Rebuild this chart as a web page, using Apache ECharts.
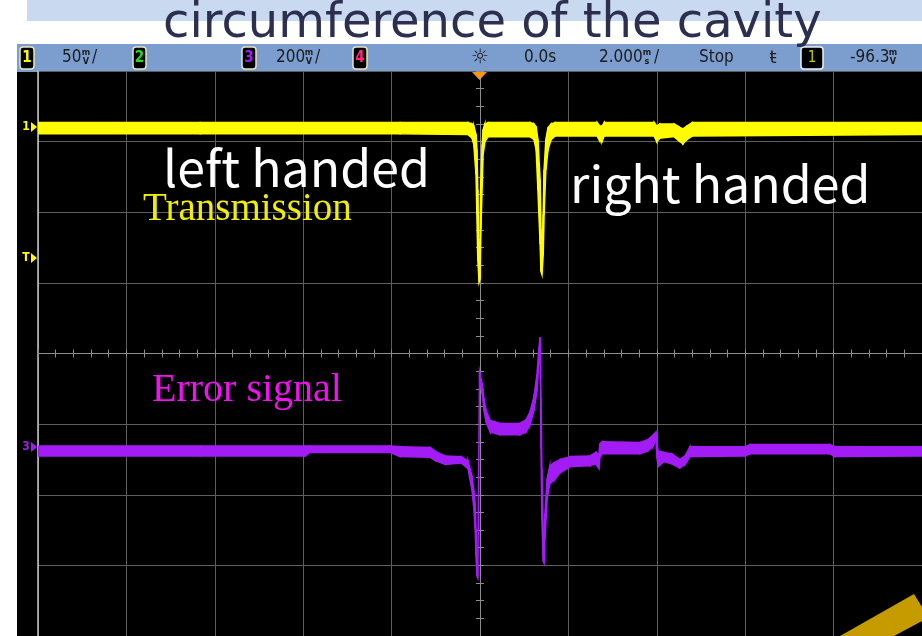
<!DOCTYPE html>
<html>
<head>
<meta charset="utf-8">
<script src="https://cdn.jsdelivr.net/npm/echarts@6/dist/echarts.min.js"></script>
<style>
html, body { margin: 0; padding: 0; background: #fff; }
#chart { width: 922px; height: 636px; }
</style>
</head>
<body>
<div id="chart"></div>
<script>
// time in ms (2 ms/div, 0.0 s at centre), traces in screen divisions (-4 .. 4)
// each trace is a noisy band: upper and lower edge
const transT = [-10, -6.33, -1.81, -0.27, -0.18, -0.14, -0.09, -0.07, -0.05, -0.02, 0, 0.02, 0.05, 0.07, 0.11, 0.18, 1.13, 1.22, 1.27, 1.31, 1.36, 1.38, 1.40, 1.43, 1.45, 1.49, 1.54, 1.61, 1.70, 2.65, 2.71, 2.76, 2.81, 3.94, 4.00, 4.07, 4.39, 4.50, 4.59, 4.68, 4.80, 10]
const transHi = [3.27, 3.27, 3.27, 3.27, 3.25, 3.22, 3.10, 2.89, 2.32, 1.19, 1.62, 2.46, 2.96, 3.17, 3.25, 3.27, 3.27, 3.25, 3.21, 3.03, 2.46, 1.76, 1.40, 1.97, 2.60, 3.03, 3.20, 3.25, 3.27, 3.27, 3.22, 3.22, 3.27, 3.27, 3.22, 3.25, 3.25, 3.21, 3.18, 3.22, 3.27, 3.27]
const transLo = [3.11, 3.11, 3.11, 3.10, 3.05, 2.96, 2.53, 1.97, 1.33, 1.01, 1.05, 1.76, 2.39, 2.82, 3.00, 3.07, 3.07, 3.03, 2.89, 2.32, 1.55, 1.16, 1.12, 1.40, 1.97, 2.60, 2.89, 3.03, 3.08, 3.08, 3.01, 3.00, 3.08, 3.08, 3.00, 3.05, 3.07, 3.01, 2.97, 3.03, 3.08, 3.10]

const errT = [-10, -6.33, -3.96, -3.85, -2.04, -1.81, -1.13, -1.00, -0.79, -0.43, -0.27, -0.18, -0.14, -0.11, -0.09, -0.07, -0.05, -0.01, 0.05, 0.09, 0.14, 0.23, 0.45, 0.90, 1.04, 1.13, 1.22, 1.29, 1.33, 1.36, 1.38, 1.40, 1.43, 1.45, 1.47, 1.52, 1.58, 1.67, 1.81, 2.04, 2.49, 2.62, 2.69, 2.71, 2.76, 3.62, 3.80, 3.91, 3.98, 4.00, 4.03, 4.16, 4.34, 4.52, 4.64, 4.75, 6.00, 6.11, 7.92, 8.03, 10]
const errHi = [-1.31, -1.31, -1.31, -1.31, -1.31, -1.32, -1.33, -1.39, -1.45, -1.46, -1.52, -1.74, -1.94, -2.12, -2.48, -2.90, -3.04, -0.26, -0.43, -0.64, -0.81, -0.95, -0.99, -0.99, -0.94, -0.83, -0.61, -0.29, 0.06, 0.23, -0.64, -1.63, -2.48, -2.62, -2.27, -1.77, -1.59, -1.55, -1.50, -1.46, -1.45, -1.40, -1.43, -1.28, -1.25, -1.26, -1.22, -1.16, -1.11, -1.21, -1.38, -1.40, -1.42, -1.50, -1.45, -1.32, -1.32, -1.29, -1.29, -1.32, -1.32]
const errLo = [-1.45, -1.45, -1.45, -1.40, -1.40, -1.46, -1.47, -1.52, -1.57, -1.55, -1.63, -1.94, -2.19, -2.48, -2.87, -3.15, -3.18, -0.36, -0.57, -0.81, -0.98, -1.11, -1.15, -1.15, -1.11, -1.01, -0.81, -0.53, -0.15, 0.06, -1.35, -2.34, -2.94, -2.97, -2.62, -2.05, -1.84, -1.80, -1.69, -1.60, -1.59, -1.56, -1.63, -1.47, -1.42, -1.42, -1.38, -1.32, -1.23, -1.46, -1.60, -1.53, -1.56, -1.62, -1.57, -1.46, -1.45, -1.42, -1.42, -1.46, -1.45]

const yellow = '#fffb00'
const purple = '#a31cf5'
const gridColor = '#5e5e5e'
const hdrFont = '"Liberation Sans Narrow", "DejaVu Sans Condensed", sans-serif'

// one segment per point: [t, hi, lo, nextT, nextHi, nextLo]
const segments = (t, hi, lo) => t.slice(0, -1).map((x, i) => [x, hi[i], lo[i], t[i + 1], hi[i + 1], lo[i + 1]])

const bandItem = color => (params, api) => {
    const a = api.coord([api.value(0), api.value(1)])
    const b = api.coord([api.value(3), api.value(4)])
    const c = api.coord([api.value(3), api.value(5)])
    const d = api.coord([api.value(0), api.value(2)])
    return {
        type: 'polygon',
        shape: { points: [a, b, c, d] },
        style: { fill: color, stroke: color, lineWidth: 1.5 },
    }
}

const traceSeries = (name, t, hi, lo, color) => ({
    type: 'custom', name, silent: true, clip: true,
    renderItem: bandItem(color),
    encode: { x: [0, 3], y: [1, 2, 4, 5] },
    data: segments(t, hi, lo),
})

// header bar pieces
const badge = (x, w, digit, color) => [
    { type: 'rect', z: 5, shape: { x, y: 47, width: w, height: 22, r: 3 }, style: { fill: '#000', stroke: '#e6e2c4', lineWidth: 1.5 } },
    { type: 'text', z: 6, x: x + w / 2, y: 58, style: { text: digit, fill: color, font: 'bold 15px ' + hdrFont, align: 'center', verticalAlign: 'middle' } },
]
const hdrText = (x, text) => ({ type: 'text', z: 6, x, y: 58, style: { text, fill: '#1c1c1c', font: '17px ' + hdrFont, verticalAlign: 'middle' } })
const unit = (x, top, bot) => [
    { type: 'text', z: 6, x, y: 53, style: { text: top, fill: '#1c1c1c', font: 'bold 9px ' + hdrFont, align: 'center', verticalAlign: 'middle' } },
    { type: 'text', z: 6, x, y: 62, style: { text: bot, fill: '#1c1c1c', font: 'bold 9px ' + hdrFont, align: 'center', verticalAlign: 'middle' } },
]
const marker = (label, y, color) => [
    { type: 'text', z: 6, x: 26, y, style: { text: label, fill: color, font: 'bold 12px ' + hdrFont, align: 'center', verticalAlign: 'middle' } },
    { type: 'polygon', z: 6, shape: { points: [[31, y - 5], [37, y], [31, y + 5]] }, style: { fill: color } },
]

const graphics = [
    { type: 'rect', z: -20, shape: { x: 27, y: 0, width: 895, height: 21 }, style: { fill: '#c9d9f0' } },
    { type: 'rect', z: -20, shape: { x: 17, y: 44, width: 905, height: 28 }, style: { fill: '#7c9ece' } },
    { type: 'rect', z: -20, shape: { x: 17, y: 72, width: 905, height: 564 }, style: { fill: '#000' } },
    ...badge(20, 14, '1', yellow),
    hdrText(62, '50'), ...unit(86, 'm', 'V'), hdrText(92, '/'),
    ...badge(133, 13, '2', '#22dd22'),
    ...badge(242, 14, '3', purple),
    hdrText(276, '200'), ...unit(309, 'm', 'V'), hdrText(315, '/'),
    ...badge(353, 14, '4', '#ff2a80'),
    { type: 'text', z: 6, x: 480, y: 58, style: { text: '☼', fill: '#1c1c1c', font: '20px "DejaVu Sans"', align: 'center', verticalAlign: 'middle' } },
    hdrText(524, '0.0s'),
    hdrText(599, '2.000'), ...unit(647, 'm', 's'), hdrText(654, '/'),
    hdrText(699, 'Stop'),
    { type: 'text', z: 6, x: 773, y: 58, style: { text: 'ŧ', fill: '#1c1c1c', font: '18px "DejaVu Sans"', align: 'center', verticalAlign: 'middle' } },
    { type: 'rect', z: 5, shape: { x: 801, y: 47, width: 22, height: 22, r: 3 }, style: { fill: '#000', stroke: '#f0f0f0', lineWidth: 1.5 } },
    { type: 'text', z: 6, x: 812, y: 58, style: { text: '1', fill: '#c8c800', font: '15px ' + hdrFont, align: 'center', verticalAlign: 'middle' } },
    hdrText(850, '-96.3'), ...unit(893, 'm', 'V'),
    { type: 'polygon', z: 6, shape: { points: [[472, 72], [487, 72], [479.5, 80]] }, style: { fill: '#f7941d' } },
    ...marker('1', 127, yellow),
    ...marker('T', 258, yellow),
    ...marker('3', 447, purple),
    // slide title and annotations
    { type: 'text', z: 20, x: 163, y: 25, style: { text: 'circumference of the cavity', fill: '#2d2f4f', font: '48px "DejaVu Sans", sans-serif', verticalAlign: 'middle' } },
    { type: 'text', z: 20, x: 163, y: 168, style: { text: 'left handed', fill: '#fff', font: '50px "Noto Sans CJK JP", sans-serif', verticalAlign: 'middle' } },
    { type: 'text', z: 20, x: 570, y: 184, style: { text: 'right handed', fill: '#fff', font: '50px "Noto Sans CJK JP", sans-serif', verticalAlign: 'middle' } },
    { type: 'text', z: 20, x: 143, y: 210, style: { text: 'Transmission', fill: '#f2ee00', font: '39px "Liberation Serif", serif', verticalAlign: 'middle' } },
    { type: 'text', z: 20, x: 152, y: 390, style: { text: 'Error signal', fill: '#f010f0', font: '40px "Liberation Serif", serif', verticalAlign: 'middle' } },
    { type: 'polygon', z: 30, shape: { points: [[840, 636], [914, 594], [922, 607], [922, 621], [894, 636]] }, style: { fill: '#c59b00' } },
]

const centreTicks = (splitNumber) => ({
    axisTick: { show: true, inside: true, length: 4, lineStyle: { color: '#8c8c8c' } },
    minorTick: { show: true, splitNumber, length: 4, lineStyle: { color: '#8c8c8c' } },
})

const option = {
    backgroundColor: '#fff',
    animation: false,
    grid: { left: 38, top: 71, width: 884, height: 567 },
    xAxis: [
        {
            type: 'value', min: -10, max: 10, interval: 2, position: 'bottom',
            axisLine: { onZero: true, lineStyle: { color: '#8c8c8c' } },
            ...centreTicks(5),
            axisLabel: { show: false },
            splitLine: { show: true, lineStyle: { color: gridColor } },
        },
        {
            type: 'value', min: -10, max: 10, interval: 2, position: 'top',
            axisLine: { onZero: true, lineStyle: { color: '#8c8c8c' } },
            ...centreTicks(5),
            axisLabel: { show: false },
            splitLine: { show: false },
        },
    ],
    yAxis: [
        {
            type: 'value', min: -4, max: 4, interval: 1, position: 'left',
            axisLine: { show: true, onZero: false, lineStyle: { color: '#c8c8c8', width: 1.5 } },
            axisTick: { show: false },
            axisLabel: { show: false },
            splitLine: { show: true, lineStyle: { color: gridColor } },
        },
        {
            type: 'value', min: -4, max: 4, interval: 1, position: 'left',
            axisLine: { show: true, onZero: true, onZeroAxisIndex: 0, lineStyle: { color: '#8c8c8c' } },
            ...centreTicks(4),
            axisLabel: { show: false },
            splitLine: { show: false },
        },
        {
            type: 'value', min: -4, max: 4, interval: 1, position: 'right',
            axisLine: { show: true, onZero: true, onZeroAxisIndex: 0, lineStyle: { color: '#8c8c8c' } },
            ...centreTicks(4),
            axisLabel: { show: false },
            splitLine: { show: false },
        },
    ],
    graphic: graphics,
    series: [
        traceSeries('Transmission', transT, transHi, transLo, yellow),
        traceSeries('Error signal', errT, errHi, errLo, purple),
    ],
}

const chart = echarts.init(document.getElementById('chart'))
chart.setOption(option)
</script>
</body>
</html>
